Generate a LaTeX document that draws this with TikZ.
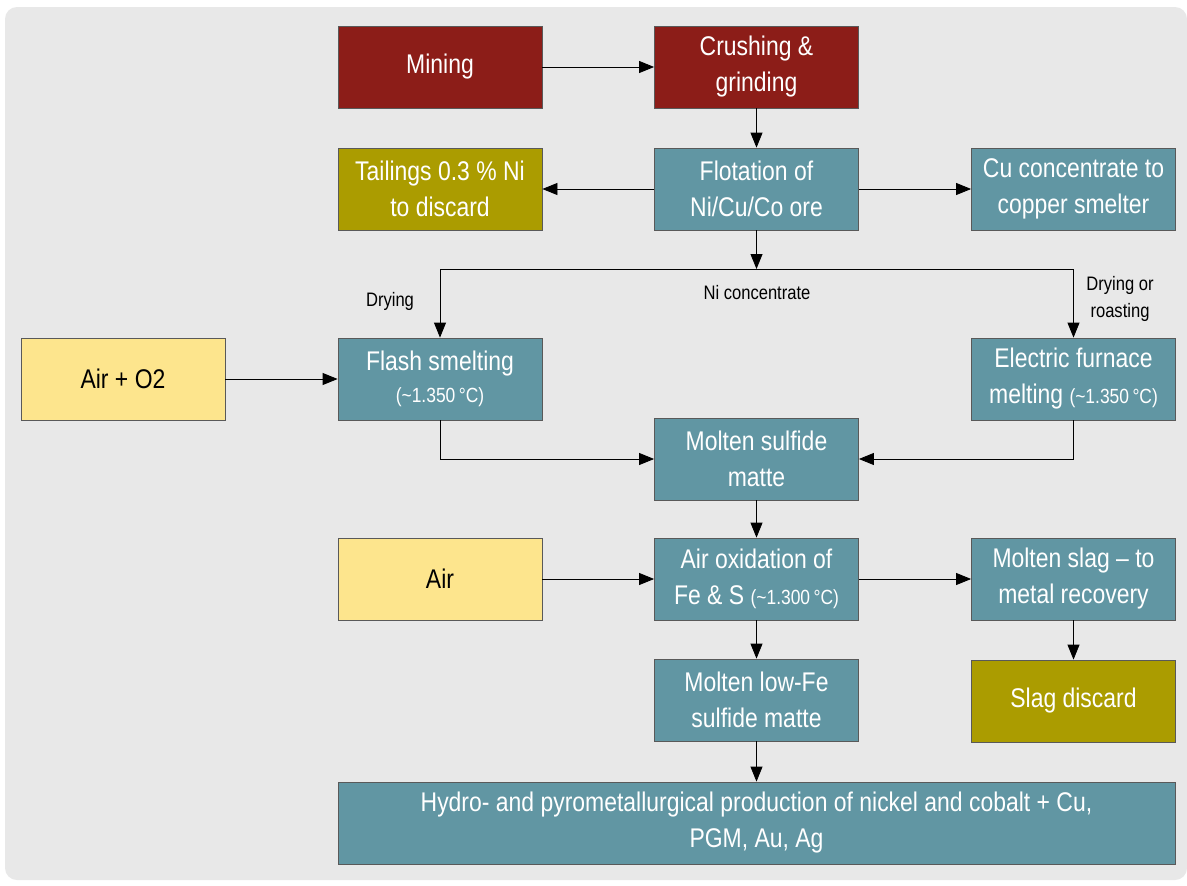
\documentclass[tikz,border=0pt]{standalone}
\usepackage{fontspec}
\setmainfont{Liberation Sans}[FakeStretch=0.85]
\usetikzlibrary{arrows.meta}

\definecolor{pagebg}{HTML}{E8E8E8}
\definecolor{oxred}{HTML}{8C1D18}
\definecolor{olive}{HTML}{AB9C00}
\definecolor{steel}{HTML}{6196A3}
\definecolor{sand}{HTML}{FDE58D}

% smaller temperature note inside a box
\newcommand\tempnote[1]{{\fontsize{20.5}{26}\selectfont(\textasciitilde#1\,°C)}}

\begin{document}
\begin{tikzpicture}[x=1pt,y=-1pt,
  box/.style={draw=black!65, line width=0.8pt, minimum width=204pt,
    minimum height=82pt, inner sep=2pt, align=center,
    font=\fontsize{27}{36}\selectfont, text=white},
  redbox/.style={box, fill=oxred},
  olivebox/.style={box, fill=olive},
  tealbox/.style={box, fill=steel},
  sandbox/.style={box, fill=sand, text=black},
  flow/.style={-{Triangle[length=15pt,width=12pt]}, line width=0.8pt, black},
  lbl/.style={font=\fontsize{19.5}{27}\selectfont, align=center}]

\useasboundingbox (0,0) rectangle (1187,886);
\fill[white] (0,0) rectangle (1187,886);
\fill[pagebg, rounded corners=12pt] (5,7) rectangle (1187,880);

% process boxes
\node[redbox]   (mining) at (440,67)    {Mining};
\node[redbox]   (crush)  at (756.5,67)  {Crushing \&\\grinding};
\node[olivebox] (tail)   at (440,189)   {Tailings 0.3 \% Ni\\to discard};
\node[tealbox]  (flot)   at (756.5,189) {Flotation of\\Ni/Cu/Co ore};
\node[tealbox]  (cu)     at (1073.5,189){Cu concentrate to\\copper smelter};
\node[sandbox]  (airo2)  at (123,379)   {Air + O2};
\node[tealbox]  (flash)  at (440,379)   {Flash smelting\\[-4pt]\tempnote{1.350}};
\node[tealbox]  (elec)   at (1073.5,379){Electric furnace\\melting \tempnote{1.350}};
\node[tealbox]  (matte)  at (756.5,459) {Molten sulfide\\matte};
\node[sandbox]  (air)    at (440,579)   {Air};
\node[tealbox]  (oxid)   at (756.5,579) {Air oxidation of\\Fe \& S \tempnote{1.300}};
\node[tealbox]  (slag)   at (1073.5,579){Molten slag -- to\\metal recovery};
\node[tealbox]  (lowfe)  at (756.5,700) {Molten low-Fe\\sulfide matte};
\node[olivebox] (slagd)  at (1073.5,701){Slag discard};
\node[tealbox, minimum width=837pt] (hydro) at (756.5,823)
  {Hydro- and pyrometallurgical production of nickel and cobalt + Cu,\\PGM, Au, Ag};

% labels on the concentrate split
\node[lbl] (ldry)  at (390,301)  {Drying};
\node[lbl] (lni)   at (757,293)  {Ni concentrate};
\node[lbl] (lroast) at (1120,299) {Drying or\\roasting};

% connectors
\coordinate (split) at (756.5,269);
\draw[flow] (mining) -- (crush);
\draw[flow] (crush) -- (flot);
\draw[flow] (flot) -- (tail);
\draw[flow] (flot) -- (cu);
\draw[flow] (flot) -- (split);
\draw[flow] (split) -| (flash.north);
\draw[flow] (split) -| (elec.north);
\draw[flow] (airo2) -- (flash);
\draw[flow] (flash.south) |- (matte.west);
\draw[flow] (elec.south) |- (matte.east);
\draw[flow] (matte) -- (oxid);
\draw[flow] (air) -- (oxid);
\draw[flow] (oxid) -- (slag);
\draw[flow] (oxid) -- (lowfe);
\draw[flow] (slag) -- (slagd);
\draw[flow] (lowfe) -- (hydro);
\end{tikzpicture}
\end{document}
